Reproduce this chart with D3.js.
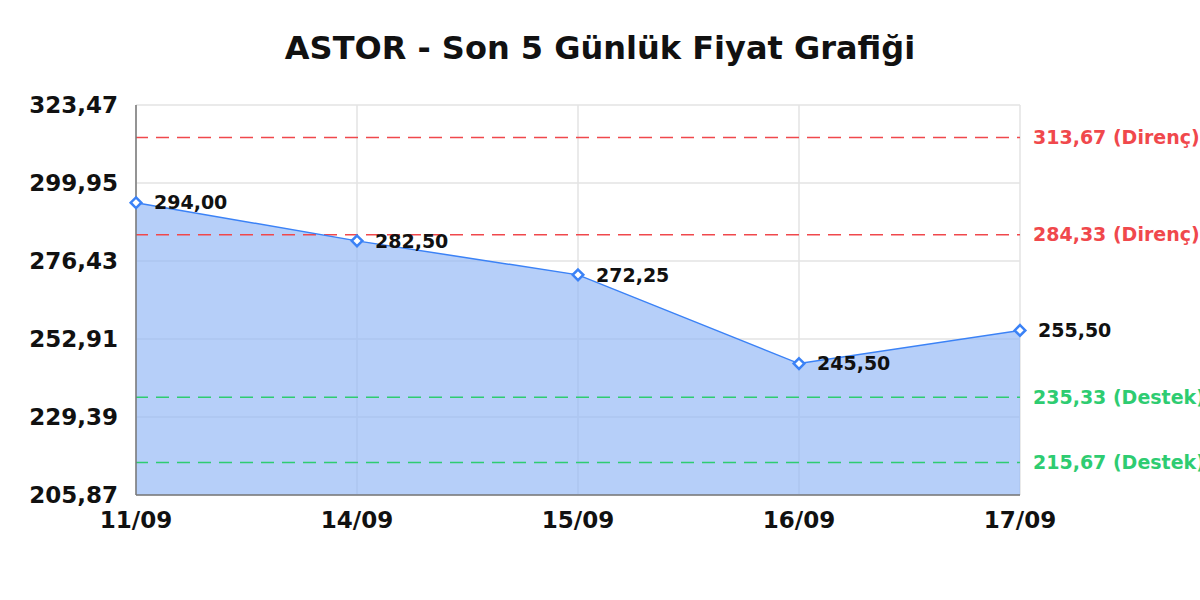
<!DOCTYPE html>
<html><head><meta charset="utf-8">
<script src="https://cdn.jsdelivr.net/npm/d3@7"></script>
<style>body{margin:0;background:#fff;overflow:hidden}svg{display:block}</style>
</head><body>
<script>
const title = "ASTOR - Son 5 Günlük Fiyat Grafiği";
const dates = ["11/09","14/09","15/09","16/09","17/09"];
const prices = [294.00, 282.50, 272.25, 245.50, 255.50];
const yTicks = [205.87, 229.39, 252.91, 276.43, 299.95, 323.47];
const resistance = [313.67, 284.33];
const support = [235.33, 215.67];
const fmt = v => v.toFixed(2).replace(".", ",");

const W = 1200, H = 600;
const m = {l:136, r:180, t:105, b:105};
const svg = d3.select("body").append("svg").attr("width", W).attr("height", H);
const font = "DejaVu Sans, sans-serif";

const x = d3.scalePoint().domain(dates).range([m.l, W - m.r]);
const y = d3.scaleLinear().domain([yTicks[0], yTicks[yTicks.length-1]]).range([H - m.b, m.t]);

// grid
svg.append("g").selectAll("line").data(yTicks).join("line")
  .attr("x1", m.l).attr("x2", W - m.r).attr("y1", d => y(d)).attr("y2", d => y(d))
  .attr("stroke", "#e3e3e3").attr("stroke-width", 1.5);
svg.append("g").selectAll("line").data(dates).join("line")
  .attr("x1", d => x(d)).attr("x2", d => x(d)).attr("y1", m.t).attr("y2", H - m.b)
  .attr("stroke", "#e3e3e3").attr("stroke-width", 1.5);

// area
const area = d3.area().x((d,i) => x(dates[i])).y0(y(yTicks[0])).y1(d => y(d));
svg.append("path").datum(prices).attr("d", area).attr("fill", "#93b8f6").attr("fill-opacity", 0.68);
const line = d3.line().x((d,i) => x(dates[i])).y(d => y(d));

// ref lines
function refLines(vals, color, label) {
  const g = svg.append("g");
  g.selectAll("line").data(vals).join("line")
    .attr("x1", m.l).attr("x2", W - m.r).attr("y1", d => y(d)).attr("y2", d => y(d))
    .attr("stroke", color).attr("stroke-width", 1.5).attr("stroke-dasharray", "13,8").attr("stroke-dashoffset", 1);
  g.selectAll("text").data(vals).join("text")
    .attr("x", W - m.r + 13).attr("y", d => y(d)).attr("dy", "0.35em")
    .attr("fill", color).attr("font-family", font).attr("font-weight", "bold").attr("font-size", 19)
    .text(d => fmt(d) + " (" + label + ")");
}
refLines(resistance, "#f0484c", "Direnç");
refLines(support, "#2ecc71", "Destek");

svg.append("path").datum(prices).attr("d", line).attr("fill", "none").attr("stroke", "#3b82f6").attr("stroke-width", 1.5);

// axes lines
svg.append("line").attr("x1", m.l).attr("x2", m.l).attr("y1", m.t).attr("y2", H - m.b).attr("stroke", "#777").attr("stroke-width", 1.5);
svg.append("line").attr("x1", m.l).attr("x2", W - m.r).attr("y1", H - m.b).attr("y2", H - m.b).attr("stroke", "#777").attr("stroke-width", 1.5);

// markers
svg.append("g").selectAll("path").data(prices).join("path")
  .attr("transform", (d,i) => `translate(${x(dates[i])},${y(d)})`)
  .attr("d", d3.symbol(d3.symbolDiamond2, 72))
  .attr("fill", "#fff").attr("stroke", "#3b82f6").attr("stroke-width", 2.5);

// data labels
svg.append("g").selectAll("text").data(prices).join("text")
  .attr("x", (d,i) => x(dates[i]) + 18).attr("y", d => y(d)).attr("dy", "0.35em")
  .attr("font-family", font).attr("font-weight", "bold").attr("font-size", 19).attr("fill", "#111")
  .text(d => fmt(d));

// y tick labels
svg.append("g").selectAll("text").data(yTicks).join("text")
  .attr("x", 118).attr("y", d => y(d)).attr("dy", "0.35em").attr("text-anchor", "end")
  .attr("font-family", font).attr("font-weight", "bold").attr("font-size", 23).attr("fill", "#111")
  .text(d => fmt(d));

// x labels
svg.append("g").selectAll("text").data(dates).join("text")
  .attr("x", d => x(d)).attr("y", 528).attr("text-anchor", "middle")
  .attr("font-family", font).attr("font-weight", "bold").attr("font-size", 23).attr("fill", "#111")
  .text(d => d);

svg.append("text").attr("x", 600).attr("y", 59).attr("text-anchor", "middle")
  .attr("font-family", font).attr("font-weight", "bold").attr("font-size", 32).attr("fill", "#111")
  .text(title);
</script>
</body></html>
